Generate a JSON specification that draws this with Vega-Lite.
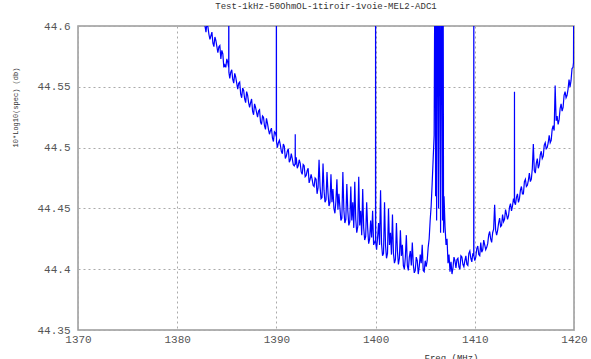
{
  "$schema": "https://vega.github.io/schema/vega-lite/v6.json",
  "autosize": {"type": "none"},
  "width": 496,
  "height": 304,
  "padding": {"left": 78, "top": 26, "right": 17, "bottom": 29},
  "background": "white",
  "title": {"text": "Test-1kHz-50OhmOL-1tiroir-1voie-MEL2-ADC1", "font": "Liberation Mono", "fontSize": 9, "fontWeight": "normal", "color": "#333", "anchor": "middle", "offset": 9},
  "config": {"view": {"stroke": "#999", "strokeWidth": 1.5}},
  "data": {"values": [
    {"freq":1382.6,"db":44.612},{"freq":1382.7,"db":44.604},{"freq":1382.8,"db":44.600},{"freq":1382.9,"db":44.595},{"freq":1383.0,"db":44.603},{"freq":1383.1,"db":44.599},{"freq":1383.2,"db":44.593},{"freq":1383.3,"db":44.589},{"freq":1383.4,"db":44.592},{"freq":1383.5,"db":44.595},{"freq":1383.6,"db":44.586},{"freq":1383.7,"db":44.583},{"freq":1383.8,"db":44.591},{"freq":1383.9,"db":44.588},{"freq":1384.0,"db":44.583},{"freq":1384.1,"db":44.578},{"freq":1384.2,"db":44.583},{"freq":1384.3,"db":44.584},{"freq":1384.4,"db":44.573},{"freq":1384.5,"db":44.580},{"freq":1384.6,"db":44.577},{"freq":1384.7,"db":44.566},{"freq":1384.8,"db":44.568},{"freq":1384.9,"db":44.566},{"freq":1385.0,"db":44.573},{"freq":1385.1,"db":44.570},
    {"freq":1385.19,"db":44.566},{"freq":1385.2,"db":44.7},{"freq":1385.21,"db":44.562},
    {"freq":1385.3,"db":44.557},{"freq":1385.4,"db":44.562},{"freq":1385.5,"db":44.564},{"freq":1385.6,"db":44.556},{"freq":1385.7,"db":44.553},{"freq":1385.8,"db":44.561},{"freq":1385.9,"db":44.558},{"freq":1386.0,"db":44.553},{"freq":1386.1,"db":44.548},{"freq":1386.2,"db":44.553},{"freq":1386.3,"db":44.554},{"freq":1386.4,"db":44.544},{"freq":1386.5,"db":44.541},{"freq":1386.6,"db":44.549},{"freq":1386.7,"db":44.547},{"freq":1386.8,"db":44.540},{"freq":1386.9,"db":44.537},{"freq":1387.0,"db":44.546},{"freq":1387.1,"db":44.543},{"freq":1387.2,"db":44.537},{"freq":1387.3,"db":44.533},{"freq":1387.4,"db":44.537},{"freq":1387.5,"db":44.540},{"freq":1387.6,"db":44.530},{"freq":1387.7,"db":44.527},{"freq":1387.8,"db":44.536},{"freq":1387.9,"db":44.533},{"freq":1388.0,"db":44.529},{"freq":1388.1,"db":44.525},{"freq":1388.2,"db":44.530},{"freq":1388.3,"db":44.531},{"freq":1388.4,"db":44.521},{"freq":1388.5,"db":44.519},{"freq":1388.6,"db":44.526},{"freq":1388.7,"db":44.525},{"freq":1388.8,"db":44.518},{"freq":1388.9,"db":44.515},{"freq":1389.0,"db":44.524},{"freq":1389.1,"db":44.520},{"freq":1389.2,"db":44.515},{"freq":1389.3,"db":44.511},{"freq":1389.4,"db":44.514},{"freq":1389.5,"db":44.516},{"freq":1389.6,"db":44.508},{"freq":1389.7,"db":44.505},{"freq":1389.8,"db":44.513},{"freq":1389.9,"db":44.512},
    {"freq":1389.99,"db":44.509},{"freq":1390.0,"db":44.7},{"freq":1390.01,"db":44.505},
    {"freq":1390.1,"db":44.500},{"freq":1390.2,"db":44.504},{"freq":1390.3,"db":44.506},{"freq":1390.4,"db":44.502},{"freq":1390.5,"db":44.497},{"freq":1390.6,"db":44.495},{"freq":1390.7,"db":44.503},{"freq":1390.8,"db":44.501},{"freq":1390.9,"db":44.491},{"freq":1391.0,"db":44.493},{"freq":1391.1,"db":44.497},{"freq":1391.2,"db":44.499},{"freq":1391.3,"db":44.488},{"freq":1391.4,"db":44.490},{"freq":1391.5,"db":44.495},{"freq":1391.6,"db":44.491},{"freq":1391.7,"db":44.486},{"freq":1391.8,"db":44.485},
    {"freq":1391.89,"db":44.487},{"freq":1391.9,"db":44.511},{"freq":1391.91,"db":44.486},
    {"freq":1392.0,"db":44.492},{"freq":1392.1,"db":44.483},{"freq":1392.2,"db":44.485},{"freq":1392.3,"db":44.490},{"freq":1392.4,"db":44.487},{"freq":1392.5,"db":44.480},{"freq":1392.6,"db":44.478},{"freq":1392.7,"db":44.486},{"freq":1392.8,"db":44.485},{"freq":1392.9,"db":44.476},{"freq":1393.0,"db":44.477},{"freq":1393.1,"db":44.481},{"freq":1393.2,"db":44.483},{"freq":1393.3,"db":44.471},{"freq":1393.4,"db":44.474},{"freq":1393.5,"db":44.478},{"freq":1393.6,"db":44.474},{"freq":1393.7,"db":44.469},{"freq":1393.8,"db":44.468},{"freq":1393.9,"db":44.475},{"freq":1394.0,"db":44.474},
    {"freq":1394.1,"db":44.462},{"freq":1394.2,"db":44.467},{"freq":1394.3,"db":44.490},{"freq":1394.4,"db":44.468},{"freq":1394.5,"db":44.458},{"freq":1394.6,"db":44.459},{"freq":1394.7,"db":44.487},{"freq":1394.8,"db":44.465},{"freq":1394.9,"db":44.455},{"freq":1395.0,"db":44.457},{"freq":1395.1,"db":44.480},{"freq":1395.2,"db":44.463},{"freq":1395.3,"db":44.452},{"freq":1395.4,"db":44.455},{"freq":1395.5,"db":44.478},{"freq":1395.6,"db":44.455},{"freq":1395.7,"db":44.466},{"freq":1395.8,"db":44.450},{"freq":1395.9,"db":44.446},{"freq":1396.0,"db":44.456},{"freq":1396.1,"db":44.474},{"freq":1396.2,"db":44.449},{"freq":1396.3,"db":44.462},{"freq":1396.4,"db":44.451},{"freq":1396.5,"db":44.440},{"freq":1396.6,"db":44.442},{"freq":1396.7,"db":44.480},{"freq":1396.8,"db":44.449},{"freq":1396.9,"db":44.438},{"freq":1397.0,"db":44.441},{"freq":1397.1,"db":44.470},{"freq":1397.2,"db":44.448},{"freq":1397.3,"db":44.436},{"freq":1397.4,"db":44.439},{"freq":1397.5,"db":44.468},{"freq":1397.6,"db":44.440},{"freq":1397.7,"db":44.455},{"freq":1397.8,"db":44.434},{"freq":1397.9,"db":44.472},{"freq":1398.0,"db":44.441},{"freq":1398.1,"db":44.430},{"freq":1398.2,"db":44.435},{"freq":1398.3,"db":44.476},{"freq":1398.4,"db":44.436},{"freq":1398.5,"db":44.448},{"freq":1398.6,"db":44.428},{"freq":1398.7,"db":44.466},{"freq":1398.8,"db":44.434},{"freq":1398.9,"db":44.424},{"freq":1399.0,"db":44.427},{"freq":1399.1,"db":44.455},{"freq":1399.2,"db":44.434},{"freq":1399.3,"db":44.421},{"freq":1399.4,"db":44.425},{"freq":1399.5,"db":44.440},{"freq":1399.6,"db":44.426},{"freq":1399.7,"db":44.448},{"freq":1399.8,"db":44.420},
    {"freq":1399.99,"db":44.424},{"freq":1400.0,"db":44.7},{"freq":1400.01,"db":44.422},
    {"freq":1400.1,"db":44.416},{"freq":1400.2,"db":44.426},{"freq":1400.3,"db":44.438},{"freq":1400.4,"db":44.420},{"freq":1400.5,"db":44.465},{"freq":1400.6,"db":44.421},{"freq":1400.7,"db":44.411},{"freq":1400.8,"db":44.413},{"freq":1400.9,"db":44.455},{"freq":1401.0,"db":44.420},{"freq":1401.1,"db":44.409},{"freq":1401.2,"db":44.413},{"freq":1401.3,"db":44.450},{"freq":1401.4,"db":44.420},{"freq":1401.5,"db":44.430},{"freq":1401.6,"db":44.412},{"freq":1401.7,"db":44.445},{"freq":1401.8,"db":44.413},{"freq":1401.9,"db":44.405},{"freq":1402.0,"db":44.408},{"freq":1402.1,"db":44.438},{"freq":1402.2,"db":44.415},{"freq":1402.3,"db":44.404},{"freq":1402.4,"db":44.409},{"freq":1402.5,"db":44.432},{"freq":1402.6,"db":44.411},{"freq":1402.7,"db":44.420},{"freq":1402.8,"db":44.403},{"freq":1402.9,"db":44.400},{"freq":1403.0,"db":44.410},{"freq":1403.1,"db":44.428},{"freq":1403.2,"db":44.403},{"freq":1403.3,"db":44.399},{"freq":1403.4,"db":44.410},{"freq":1403.5,"db":44.415},{"freq":1403.6,"db":44.403},{"freq":1403.7,"db":44.422},{"freq":1403.8,"db":44.404},{"freq":1403.9,"db":44.397},{"freq":1404.0,"db":44.399},{"freq":1404.1,"db":44.410},{"freq":1404.2,"db":44.407},{"freq":1404.3,"db":44.396},{"freq":1404.4,"db":44.402},{"freq":1404.5,"db":44.412},{"freq":1404.6,"db":44.405},{"freq":1404.7,"db":44.420},{"freq":1404.8,"db":44.399},{"freq":1404.9,"db":44.398},{"freq":1405.0,"db":44.407},{"freq":1405.1,"db":44.402},
    {"freq":1405.2,"db":44.407},{"freq":1405.3,"db":44.418},{"freq":1405.4,"db":44.425},{"freq":1405.5,"db":44.440},{"freq":1405.6,"db":44.452},{"freq":1405.7,"db":44.470},{"freq":1405.8,"db":44.490},{"freq":1405.9,"db":44.510},
    {"freq":1406.0,"db":44.7},{"freq":1406.05,"db":44.46},{"freq":1406.1,"db":44.7},{"freq":1406.15,"db":44.44},{"freq":1406.3,"db":44.7},{"freq":1406.35,"db":44.45},{"freq":1406.5,"db":44.7},{"freq":1406.55,"db":44.43},{"freq":1406.7,"db":44.7},{"freq":1406.75,"db":44.44},{"freq":1406.8,"db":44.7},{"freq":1406.85,"db":44.43},
    {"freq":1406.9,"db":44.46},{"freq":1407.0,"db":44.435},{"freq":1407.1,"db":44.42},{"freq":1407.2,"db":44.425},{"freq":1407.3,"db":44.405},{"freq":1407.4,"db":44.412},{"freq":1407.5,"db":44.398},{"freq":1407.6,"db":44.406},{"freq":1407.7,"db":44.396},{"freq":1407.8,"db":44.401},{"freq":1407.9,"db":44.410},{"freq":1408.0,"db":44.407},
    {"freq":1408.1,"db":44.401},{"freq":1408.2,"db":44.408},{"freq":1408.3,"db":44.409},{"freq":1408.4,"db":44.402},{"freq":1408.5,"db":44.400},{"freq":1408.6,"db":44.411},{"freq":1408.7,"db":44.410},{"freq":1408.8,"db":44.404},{"freq":1408.9,"db":44.402},{"freq":1409.0,"db":44.407},{"freq":1409.1,"db":44.411},{"freq":1409.2,"db":44.404},{"freq":1409.3,"db":44.403},{"freq":1409.4,"db":44.413},{"freq":1409.5,"db":44.415},{"freq":1409.6,"db":44.409},{"freq":1409.7,"db":44.406},{"freq":1409.8,"db":44.413},
    {"freq":1409.89,"db":44.411},{"freq":1409.9,"db":44.7},{"freq":1409.91,"db":44.411},
    {"freq":1410.0,"db":44.407},{"freq":1410.1,"db":44.410},{"freq":1410.2,"db":44.417},{"freq":1410.3,"db":44.419},{"freq":1410.4,"db":44.412},{"freq":1410.5,"db":44.411},{"freq":1410.6,"db":44.422},{"freq":1410.7,"db":44.414},{"freq":1410.8,"db":44.416},{"freq":1410.9,"db":44.424},{"freq":1411.0,"db":44.420},{"freq":1411.1,"db":44.416},{"freq":1411.2,"db":44.418},{"freq":1411.3,"db":44.421},{"freq":1411.4,"db":44.428},{"freq":1411.5,"db":44.431},{"freq":1411.6,"db":44.425},{"freq":1411.7,"db":44.422},{"freq":1411.8,"db":44.430},{"freq":1411.9,"db":44.433},{"freq":1412.0,"db":44.453},{"freq":1412.1,"db":44.432},{"freq":1412.2,"db":44.428},{"freq":1412.3,"db":44.432},{"freq":1412.4,"db":44.438},{"freq":1412.5,"db":44.442},{"freq":1412.6,"db":44.435},{"freq":1412.7,"db":44.436},{"freq":1412.8,"db":44.445},{"freq":1412.9,"db":44.439},{"freq":1413.0,"db":44.441},{"freq":1413.1,"db":44.449},{"freq":1413.2,"db":44.445},{"freq":1413.3,"db":44.441},{"freq":1413.4,"db":44.444},{"freq":1413.5,"db":44.451},{"freq":1413.6,"db":44.454},{"freq":1413.7,"db":44.448},{"freq":1413.8,"db":44.452},{"freq":1413.9,"db":44.458},
    {"freq":1413.99,"db":44.455},{"freq":1414.0,"db":44.546},{"freq":1414.01,"db":44.455},
    {"freq":1414.1,"db":44.453},{"freq":1414.2,"db":44.459},{"freq":1414.3,"db":44.462},{"freq":1414.4,"db":44.455},{"freq":1414.5,"db":44.458},{"freq":1414.6,"db":44.465},{"freq":1414.7,"db":44.468},{"freq":1414.8,"db":44.462},{"freq":1414.9,"db":44.462},{"freq":1415.0,"db":44.472},{"freq":1415.1,"db":44.474},{"freq":1415.2,"db":44.468},{"freq":1415.3,"db":44.469},{"freq":1415.4,"db":44.473},{"freq":1415.5,"db":44.479},{"freq":1415.6,"db":44.472},{"freq":1415.7,"db":44.474},{"freq":1415.8,"db":44.483},{"freq":1415.9,"db":44.503},{"freq":1416.0,"db":44.481},{"freq":1416.1,"db":44.479},{"freq":1416.2,"db":44.487},{"freq":1416.3,"db":44.491},{"freq":1416.4,"db":44.483},{"freq":1416.5,"db":44.486},{"freq":1416.6,"db":44.494},{"freq":1416.7,"db":44.497},{"freq":1416.8,"db":44.491},{"freq":1416.9,"db":44.493},{"freq":1417.0,"db":44.502},{"freq":1417.1,"db":44.504},{"freq":1417.2,"db":44.499},{"freq":1417.3,"db":44.500},{"freq":1417.4,"db":44.504},{"freq":1417.5,"db":44.510},{"freq":1417.6,"db":44.504},{"freq":1417.7,"db":44.506},{"freq":1417.8,"db":44.515},{"freq":1417.9,"db":44.518},{"freq":1418.0,"db":44.514},{"freq":1418.1,"db":44.551},{"freq":1418.2,"db":44.522},{"freq":1418.3,"db":44.526},{"freq":1418.4,"db":44.519},{"freq":1418.5,"db":44.523},{"freq":1418.6,"db":44.532},{"freq":1418.7,"db":44.536},{"freq":1418.8,"db":44.530},{"freq":1418.9,"db":44.533},{"freq":1419.0,"db":44.543},{"freq":1419.1,"db":44.546},{"freq":1419.2,"db":44.541},{"freq":1419.3,"db":44.543},{"freq":1419.4,"db":44.548},{"freq":1419.5,"db":44.556},{"freq":1419.6,"db":44.550},{"freq":1419.7,"db":44.555},{"freq":1419.8,"db":44.565},{"freq":1419.9,"db":44.566},{"freq":1419.95,"db":44.570},{"freq":1420.0,"db":44.7}
  ]},
  "mark": {"type": "line", "color": "#0000ff", "strokeWidth": 1.2, "clip": true, "interpolate": "linear"},
  "encoding": {
    "x": {"field": "freq", "type": "quantitative", "sort": null,
      "scale": {"domain": [1370, 1420], "nice": false, "zero": false},
      "axis": {"values": [1370, 1380, 1390, 1400, 1410, 1420], "format": "d", "title": "Freq (MHz)",
        "titleFont": "Liberation Mono", "titleFontSize": 9, "titleFontWeight": "normal", "titleColor": "#333",
        "titleX": 373, "titleY": 27, "titleAlign": "center", "titleBaseline": "middle",
        "labelFont": "Liberation Mono", "labelFontSize": 11, "labelColor": "#555", "labelPadding": 3,
        "ticks": false, "domain": false, "grid": true, "gridColor": "#aaa", "gridDash": [2, 3], "gridWidth": 1, "labelFlush": false}},
    "y": {"field": "db", "type": "quantitative",
      "scale": {"domain": [44.35, 44.6], "nice": false, "zero": false},
      "axis": {"values": [44.35, 44.4, 44.45, 44.5, 44.55, 44.6], "format": ".4~g", "title": "10*Log10(spec) (db)",
        "titleFont": "Liberation Mono", "titleFontSize": 7, "titleFontWeight": "normal", "titleColor": "#333",
        "titleX": -63, "titleY": 81, "titleAngle": -90, "titleAlign": "center", "titleBaseline": "middle",
        "labelFont": "Liberation Mono", "labelFontSize": 11, "labelColor": "#555", "labelPadding": 8,
        "ticks": false, "domain": false, "grid": true, "gridColor": "#aaa", "gridDash": [2, 3], "gridWidth": 1, "labelFlush": false}}
  }
}
